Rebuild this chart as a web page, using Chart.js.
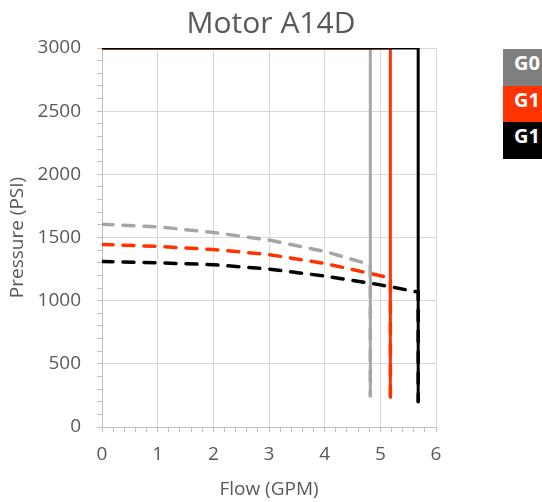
<!DOCTYPE html>
<html>
<head>
<meta charset="utf-8">
<script src="https://cdn.jsdelivr.net/npm/chart.js@4.4.1/dist/chart.umd.min.js"></script>
<style>
  html, body { margin: 0; padding: 0; background: #fff; overflow: hidden; }
  #wrap { position: relative; width: 542px; height: 502px; }
  #legend { position: absolute; left: 503px; top: 49px; }
  .legend-item {
    width: 60px; height: 36.5px; line-height: 36.5px;
    padding-left: 11px; box-sizing: border-box;
    color: #fff; font: bold 20px "Open Sans", sans-serif; white-space: nowrap;
  }
</style>
</head>
<body>
<div id="wrap">
  <canvas id="motorChart" width="542" height="502"></canvas>
  <div id="legend"></div>
</div>
<script>
// series names, as shown in the legend
const seriesNames = ['G0', 'G1', 'G1'];

// relief pressure (top of every curve)
const reliefPressure = 3000;

// G0 (grey)
const g0Flow = [0, 1, 2, 3, 4, 4.82];
const g0Pressure = [1605, 1585, 1540, 1480, 1390, 1285];
const g0MinPressure = 245;

// G1 (red)
const g1aFlow = [0, 1, 2, 3, 4, 5.18];
const g1aPressure = [1445, 1430, 1405, 1365, 1295, 1180];
const g1aMinPressure = 228;

// G1 (black)
const g1bFlow = [0, 1, 2, 3, 4, 5, 5.68];
const g1bPressure = [1310, 1300, 1285, 1250, 1195, 1125, 1068];
const g1bMinPressure = 200;

const lineColors = ['#a6a6a6', '#ff3300', '#000000'];
const legendColors = ['#7f7f7f', '#ff3300', '#000000'];

function solidLine(flow, minP) {
  const maxFlow = flow[flow.length - 1];
  return [
    { x: 0, y: reliefPressure },
    { x: maxFlow, y: reliefPressure },
    { x: maxFlow, y: minP }
  ];
}

function dashedLine(flow, pressure, minP) {
  const pts = flow.map((f, i) => ({ x: f, y: pressure[i] }));
  pts.push({ x: flow[flow.length - 1], y: minP });
  return pts;
}

const series = [
  { flow: g1bFlow, pressure: g1bPressure, minP: g1bMinPressure, name: seriesNames[2], color: lineColors[2] },
  { flow: g1aFlow, pressure: g1aPressure, minP: g1aMinPressure, name: seriesNames[1], color: lineColors[1] },
  { flow: g0Flow, pressure: g0Pressure, minP: g0MinPressure, name: seriesNames[0], color: lineColors[0] }
];

const datasets = [];
series.forEach(s => {
  datasets.push({
    label: s.name,
    data: solidLine(s.flow, s.minP),
    borderColor: s.color,
    borderWidth: 3,
    pointRadius: 0,
    tension: 0,
    fill: false
  });
});
series.forEach(s => {
  datasets.push({
    label: s.name + ' curve',
    data: dashedLine(s.flow, s.pressure, s.minP),
    borderColor: s.color,
    borderWidth: 3.5,
    borderDash: [11, 10],
    borderCapStyle: 'round',
    pointRadius: 0,
    tension: 0,
    fill: false
  });
});

// legend boxes on the right
const legendEl = document.getElementById('legend');
seriesNames.forEach((name, i) => {
  const div = document.createElement('div');
  div.className = 'legend-item';
  div.style.background = legendColors[i];
  div.textContent = name;
  legendEl.appendChild(div);
});

const textColor = '#595959';
const gridColor = '#d9d9d9';
const axisColor = '#bfbfbf';
const fontFamily = '"Open Sans", sans-serif';

const isWhole = v => Math.abs(v - Math.round(v)) < 1e-6;

new Chart(document.getElementById('motorChart').getContext('2d'), {
  type: 'line',
  data: { datasets: datasets },
  options: {
    responsive: false,
    animation: false,
    layout: { padding: 0 },
    plugins: {
      legend: { display: false },
      tooltip: { enabled: false },
      title: {
        display: true,
        text: 'Motor A14D',
        color: textColor,
        font: { family: fontFamily, size: 30, weight: 'normal' },
        padding: { top: 6, bottom: 6 }
      }
    },
    scales: {
      x: {
        type: 'linear',
        min: 0,
        max: 6,
        afterFit: s => { s.height = 75; },
        border: { color: axisColor, width: 1 },
        grid: {
          color: c => isWhole(c.tick.value) ? gridColor : 'rgba(0,0,0,0)',
          tickColor: axisColor,
          tickLength: 5
        },
        ticks: {
          stepSize: 0.2,
          autoSkip: false,
          maxRotation: 0,
          padding: 11,
          color: textColor,
          font: { family: fontFamily, size: 19 },
          callback: v => isWhole(v) ? Math.round(v) : ''
        },
        title: {
          display: true,
          text: 'Flow (GPM)',
          color: textColor,
          font: { family: fontFamily, size: 19 },
          padding: { top: 0, bottom: 1 }
        }
      },
      y: {
        type: 'linear',
        min: 0,
        max: 3000,
        afterFit: s => { s.width = 102; },
        border: { color: axisColor, width: 1 },
        grid: {
          color: c => c.tick.value % 500 === 0 ? gridColor : 'rgba(0,0,0,0)',
          tickColor: axisColor,
          tickLength: 5
        },
        ticks: {
          stepSize: 100,
          autoSkip: false,
          padding: 16,
          color: textColor,
          font: { family: fontFamily, size: 19 },
          callback: v => v % 500 === 0 ? v : ''
        },
        title: {
          display: true,
          text: 'Pressure (PSI)',
          color: textColor,
          font: { family: fontFamily, size: 19 },
          padding: { top: 6, bottom: 0 }
        }
      },
      // empty right-hand axis reserving room for the legend
      yRight: {
        position: 'right',
        display: true,
        afterFit: s => { s.width = 106; },
        border: { display: false },
        grid: { display: false, drawTicks: false },
        ticks: { display: false }
      }
    }
  }
});
</script>
</body>
</html>
